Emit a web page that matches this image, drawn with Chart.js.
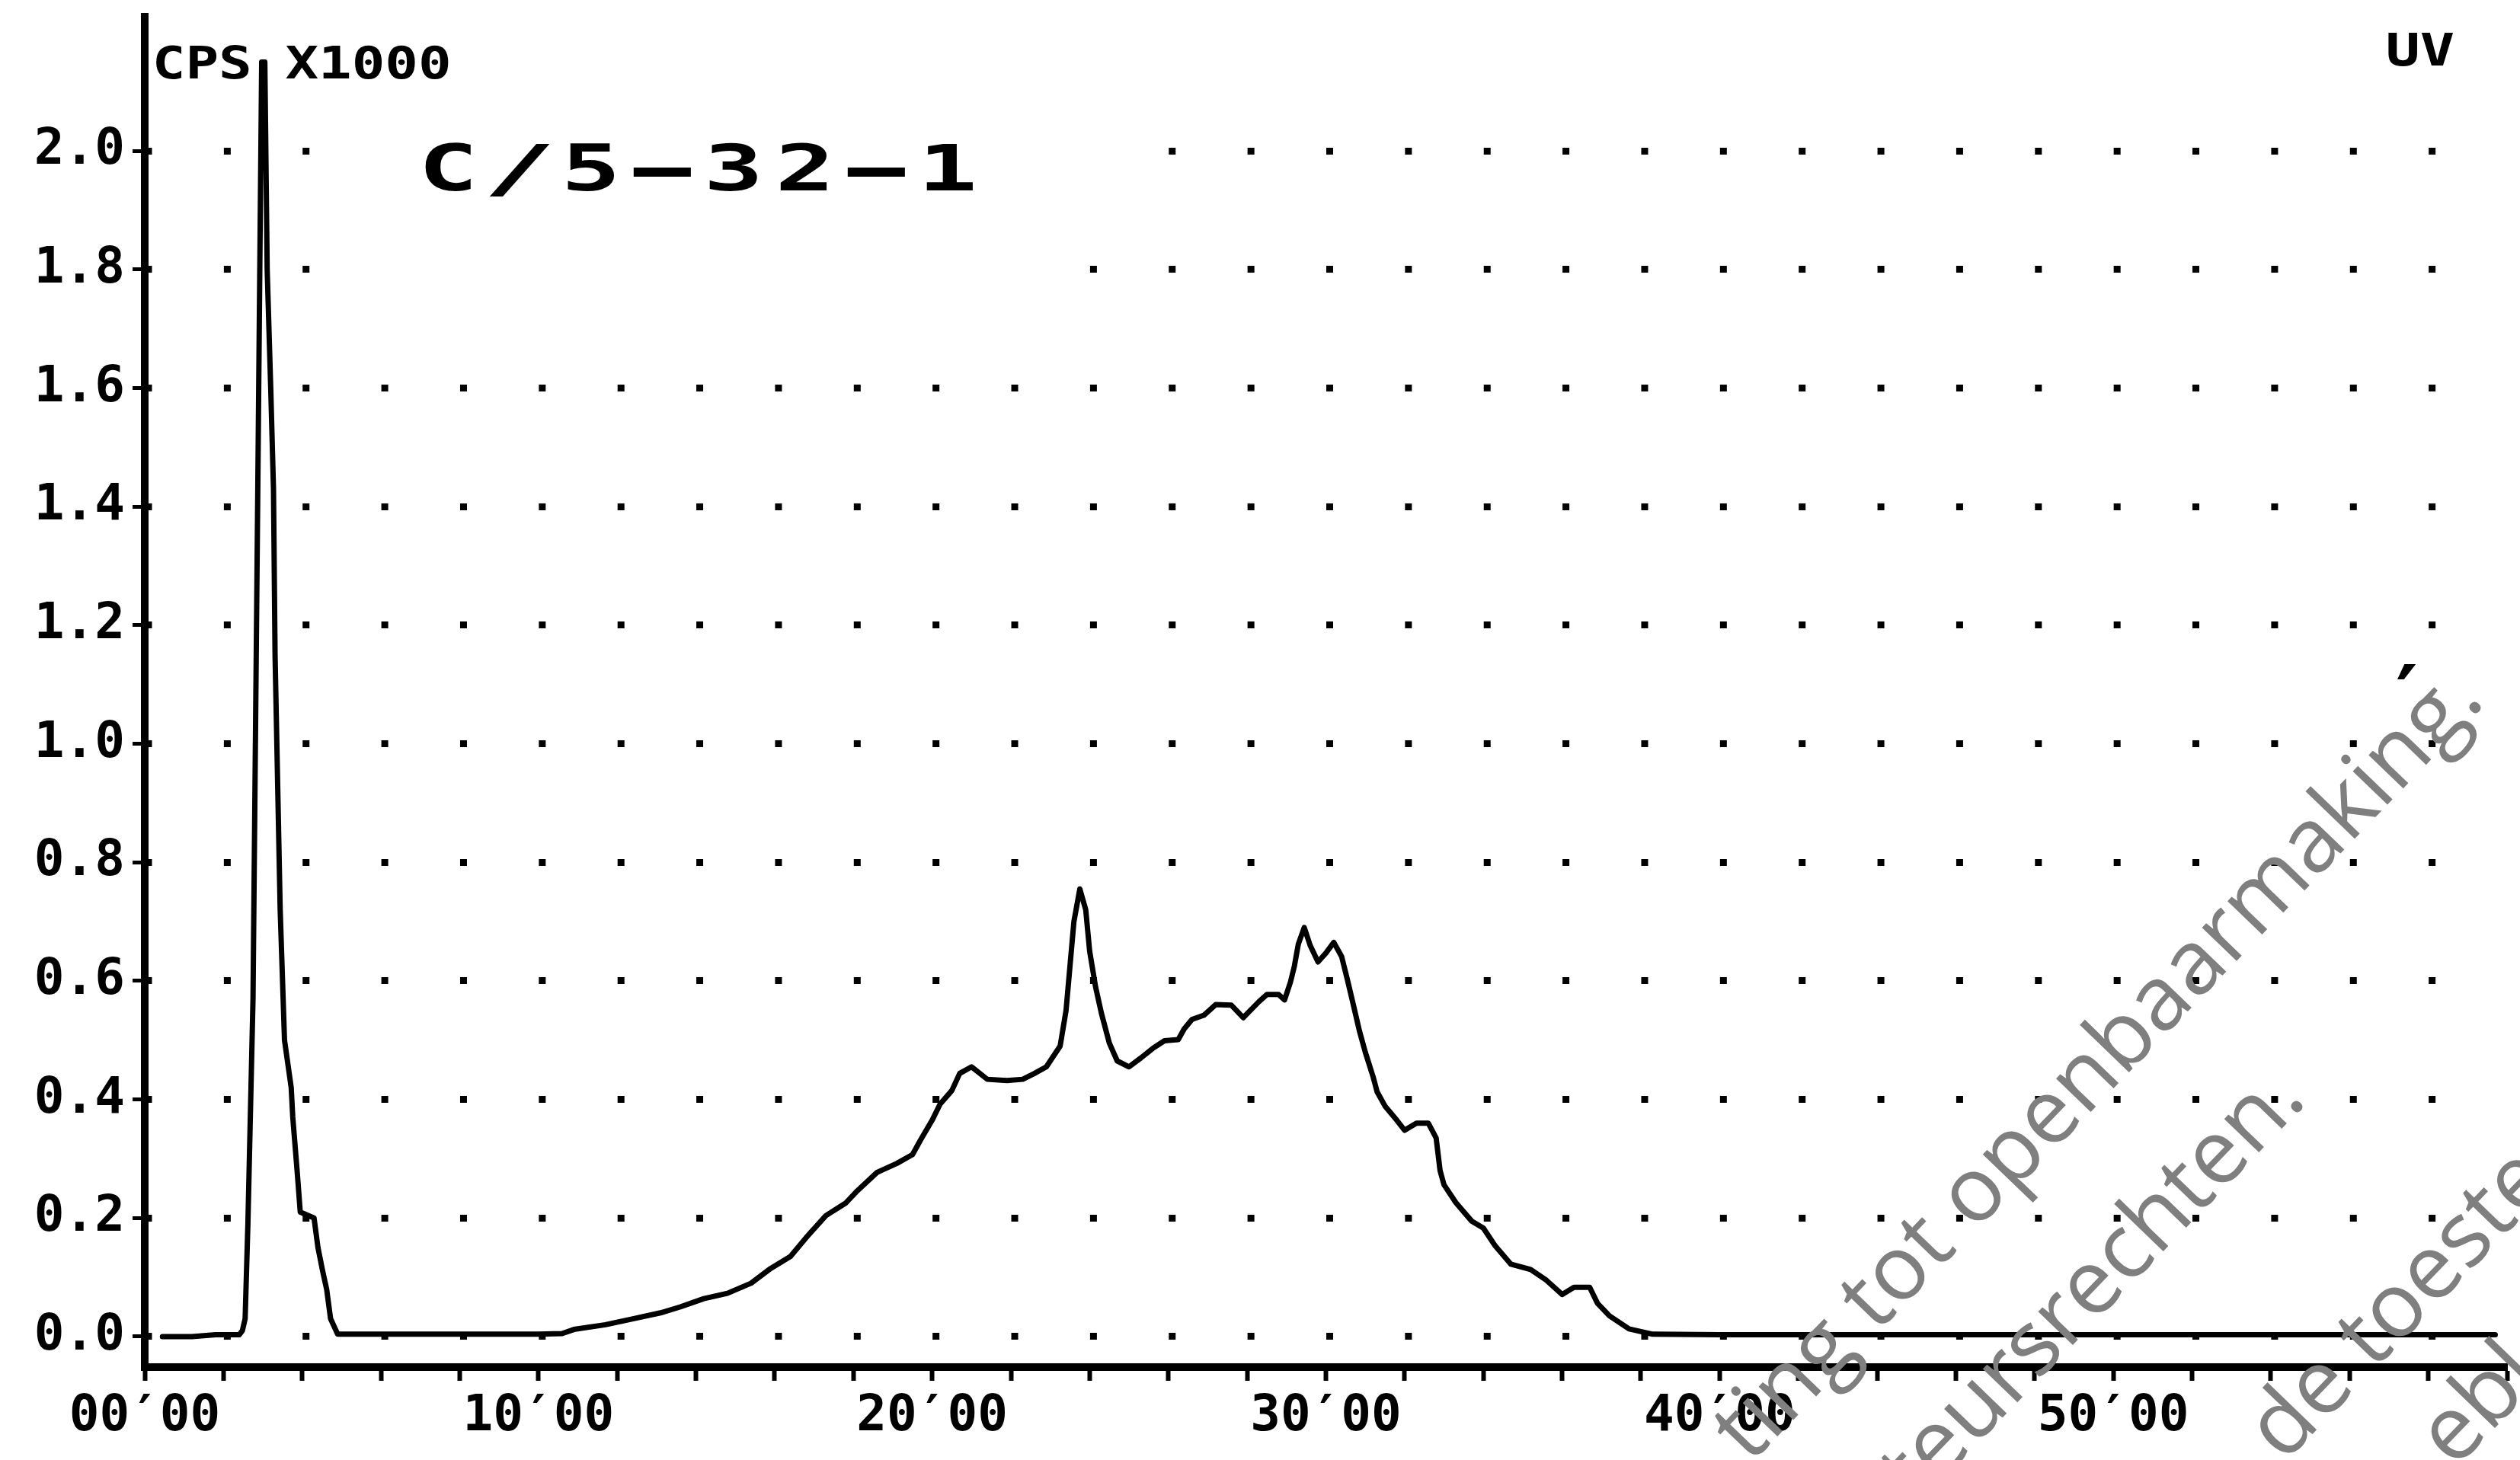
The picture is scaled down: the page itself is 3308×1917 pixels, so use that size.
<!DOCTYPE html>
<html>
<head>
<meta charset="utf-8">
<title>C/5-32-1</title>
<script src="https://cdn.jsdelivr.net/npm/chart.js@4.4.1/dist/chart.umd.min.js"></script>
<style>
  html, body { margin: 0; padding: 0; background: #fff; }
  #wrap { width: 3308px; height: 1917px; position: relative; }
</style>
</head>
<body>
<div id="wrap"><canvas id="chrom"></canvas></div>
<script>
// retention time in minutes
const timeMin = [
  0.45, 1.2, 1.8, 2.4, 2.48, 2.55, 2.62, 2.75, 2.87, 2.97, 3.05,
  3.11, 3.2, 3.27, 3.31, 3.44, 3.55, 3.72, 3.76, 3.87, 3.95, 4.3, 4.4, 4.52, 4.62, 4.72, 4.9,
  6.0, 8.0, 10.0, 10.6, 10.9, 11.7, 12.4, 13.1, 13.6, 14.2, 14.8, 15.4, 15.9, 16.4, 16.8, 17.3,
  17.8, 18.1, 18.6, 19.1, 19.5, 19.7, 20.0, 20.2, 20.5, 20.7, 21.0, 21.4, 21.9, 22.3, 22.6, 22.9,
  23.25, 23.4, 23.5, 23.6, 23.75, 23.9, 24.0, 24.15, 24.3, 24.5, 24.7, 25.0, 25.3, 25.6, 25.9,
  26.25, 26.4, 26.6, 26.9, 27.2, 27.6, 27.9, 28.3, 28.5, 28.8, 28.95, 29.1, 29.2, 29.3, 29.45,
  29.6, 29.8, 30.0, 30.2, 30.4, 30.55, 30.7, 30.85, 31.0, 31.2, 31.3, 31.5, 31.8, 32.0, 32.3,
  32.6, 32.8, 32.9, 33.0, 33.3, 33.7, 34.0, 34.3, 34.7, 35.2, 35.6, 36.0, 36.3, 36.7, 36.9,
  37.2, 37.7, 38.3, 40.0, 45.0, 50.0, 55.0, 59.7
];

// detector response, CPS x1000
const cps = [
  0.0, 0.0, 0.003, 0.003, 0.01, 0.03, 0.19, 0.57, 1.42, 2.15, 2.15,
  1.8, 1.6, 1.43, 1.15, 0.72, 0.5, 0.42, 0.37, 0.28, 0.21, 0.2, 0.15, 0.11, 0.08, 0.03, 0.004,
  0.004, 0.004, 0.004, 0.005, 0.012, 0.02, 0.03, 0.04, 0.05, 0.064, 0.073, 0.09, 0.115, 0.135, 0.167, 0.204,
  0.225, 0.246, 0.277, 0.292, 0.307, 0.331, 0.365, 0.392, 0.415, 0.444, 0.455, 0.434, 0.432, 0.434, 0.444, 0.455,
  0.49, 0.55, 0.625, 0.70, 0.755, 0.72, 0.65, 0.59, 0.545, 0.495, 0.465, 0.455, 0.47, 0.486, 0.499,
  0.501, 0.519, 0.535, 0.542, 0.56, 0.559, 0.538, 0.565, 0.577, 0.577, 0.568, 0.598, 0.625, 0.662, 0.69,
  0.66, 0.632, 0.647, 0.665, 0.641, 0.601, 0.559, 0.516, 0.48, 0.438, 0.413, 0.389, 0.365, 0.348, 0.36,
  0.36, 0.335, 0.28, 0.256, 0.226, 0.195, 0.183, 0.153, 0.122, 0.113, 0.095, 0.071, 0.083, 0.083, 0.056,
  0.035, 0.013, 0.004, 0.003, 0.003, 0.003, 0.003, 0.003
];

const xTickMinutes = [0, 2, 4, 6, 8, 10, 12, 14, 16, 18, 20, 22, 24, 26, 28, 30,
  32, 34, 36, 38, 40, 42, 44, 46, 48, 50, 52, 54, 56, 58, 60];
const xLabelMinutes = [0, 10, 20, 30, 40, 50];
const xLabelText = ['00′00', '10′00', '20′00', '30′00', '40′00', '50′00'];
const yTickValues = [0.0, 0.2, 0.4, 0.6, 0.8, 1.0, 1.2, 1.4, 1.6, 1.8, 2.0];
const yTickText = ['0.0', '0.2', '0.4', '0.6', '0.8', '1.0', '1.2', '1.4', '1.6', '1.8', '2.0'];

const sampleName = 'C/5-32-1';
const unitText = 'CPS X1000';
const detectorText = 'UV';

const MONO = 'DejaVu Sans Mono';
const DOT = 9;

// gaps in the dotted grid where the plotter left room for the sample name
const gridGaps = [
  { level: 2.0, from: 5, to: 25 },
  { level: 1.8, from: 5, to: 23 }
];

const stampLines = [
  { text: 'ting tot openbaarmaking.', x: 3264, y: 922, align: 'right' },
  { text: 'auteursrechten.', x: 3030, y: 1446, align: 'right' },
  { text: 'de toeste', x: 2998, y: 1922, align: 'left' },
  { text: 'ebl', x: 3222, y: 1930, align: 'left' }
];

function dotDash(chart) {
  const xs = chart.scales.x;
  if (!xs) return [];
  const step = xs.getPixelForValue(2) - xs.getPixelForValue(0);
  if (!isFinite(step) || step <= DOT) return [];
  return [DOT, step - DOT];
}

function wideText(ctx, text, px, py, sx, align) {
  ctx.save();
  ctx.translate(px, py);
  ctx.scale(sx, 1);
  ctx.textAlign = align || 'left';
  ctx.fillText(text, 0, 0);
  ctx.restore();
}

// the plotter's dashes and slash are as wide as its letters
function charStretch(ch) {
  if (ch === '-') return 2.9;
  if (ch === '/') return 1.9;
  return 1.55;
}

const plotterNotes = {
  id: 'plotterNotes',
  beforeDatasetsDraw(chart) {
    const { ctx, scales: { x, y } } = chart;
    ctx.save();
    ctx.fillStyle = '#fff';
    gridGaps.forEach(g => {
      const x0 = x.getPixelForValue(g.from);
      const x1 = x.getPixelForValue(g.to);
      ctx.fillRect(x0, y.getPixelForValue(g.level) - 12, x1 - x0, 24);
    });
    ctx.restore();
  },
  afterDatasetsDraw(chart) {
    const { ctx, scales: { x, y } } = chart;
    ctx.save();
    ctx.fillStyle = '#000';
    ctx.textBaseline = 'alphabetic';

    // sample name, spread over a fixed stretch of the grid
    const tx0 = x.getPixelForValue(6.8);
    const tx1 = x.getPixelForValue(21.3);
    const base = y.getPixelForValue(1.934);
    const cap = base - y.getPixelForValue(2.013);
    const size = Math.round(cap / 0.73);
    ctx.font = `bold ${size}px "${MONO}"`;
    const cell = (tx1 - tx0) / sampleName.length;
    [...sampleName].forEach((ch, i) => {
      wideText(ctx, ch, tx0 + cell * (i + 0.5), base, charStretch(ch), 'center');
    });

    // unit label in the top left corner
    ctx.font = `bold 58px "${MONO}"`;
    wideText(ctx, unitText, x.getPixelForValue(0.19), y.getPixelForValue(2.122), 1.25, 'left');

    // detector label
    wideText(ctx, detectorText, x.getPixelForValue(58.67), y.getPixelForValue(2.144), 1.3, 'right');

    // pen mark
    ctx.font = `bold 110px "${MONO}"`;
    ctx.textAlign = 'center';
    ctx.fillText('′', x.getPixelForValue(57.45), y.getPixelForValue(1.03));
    ctx.restore();
  },
  afterDraw(chart) {
    const { ctx } = chart;
    ctx.save();
    ctx.fillStyle = '#7f7f7f';
    ctx.font = '118px "Open Sans"';
    ctx.textBaseline = 'alphabetic';
    stampLines.forEach(s => {
      ctx.save();
      ctx.translate(s.x, s.y);
      ctx.rotate(-46 * Math.PI / 180);
      ctx.textAlign = s.align;
      ctx.fillText(s.text, 0, 0);
      ctx.restore();
    });
    ctx.restore();
  }
};

const yMin = -0.0515;
const yMax = 2.2265;

new Chart(document.getElementById('chrom'), {
  type: 'line',
  data: {
    datasets: [{
      data: timeMin.map((t, i) => ({ x: t, y: cps[i] })),
      borderColor: '#000',
      borderWidth: 7,
      borderJoinStyle: 'round',
      borderCapStyle: 'round',
      pointRadius: 0,
      tension: 0,
      fill: false
    }]
  },
  options: {
    responsive: true,
    maintainAspectRatio: false,
    animation: false,
    layout: { padding: { top: 22, right: 17, left: 0, bottom: 0 } },
    plugins: { legend: { display: false }, tooltip: { enabled: false } },
    scales: {
      x: {
        type: 'linear',
        min: 0,
        max: 60,
        afterBuildTicks: s => { s.ticks = xTickMinutes.map(v => ({ value: v })); },
        afterFit: s => { s.height = 122; s.paddingLeft = 0; s.paddingRight = 0; },
        grid: { drawOnChartArea: false, drawTicks: true, tickLength: 18, tickWidth: 6, tickColor: '#000', color: '#000' },
        border: { display: true, color: '#000', width: 10 },
        ticks: {
          autoSkip: false,
          maxRotation: 0,
          padding: 8,
          color: '#000',
          font: { family: MONO, size: 66, weight: 'bold' },
          callback: v => {
            const i = xLabelMinutes.indexOf(v);
            return i < 0 ? '' : xLabelText[i];
          }
        }
      },
      y: {
        min: yMin,
        max: yMax,
        afterBuildTicks: s => { s.ticks = yTickValues.map(v => ({ value: v })); },
        afterFit: s => { s.width = 190; s.paddingTop = 0; s.paddingBottom = 0; },
        grid: { color: '#000', lineWidth: DOT, drawTicks: true, tickLength: 16, tickWidth: 5, tickColor: '#000' },
        border: { display: true, color: '#000', width: 10, dash: ctx => dotDash(ctx.chart), dashOffset: DOT / 2 },
        ticks: {
          padding: 10,
          color: '#000',
          font: { family: MONO, size: 66, weight: 'bold' },
          callback: (v, i) => yTickText[i]
        }
      }
    }
  },
  plugins: [plotterNotes]
});
</script>
</body>
</html>
